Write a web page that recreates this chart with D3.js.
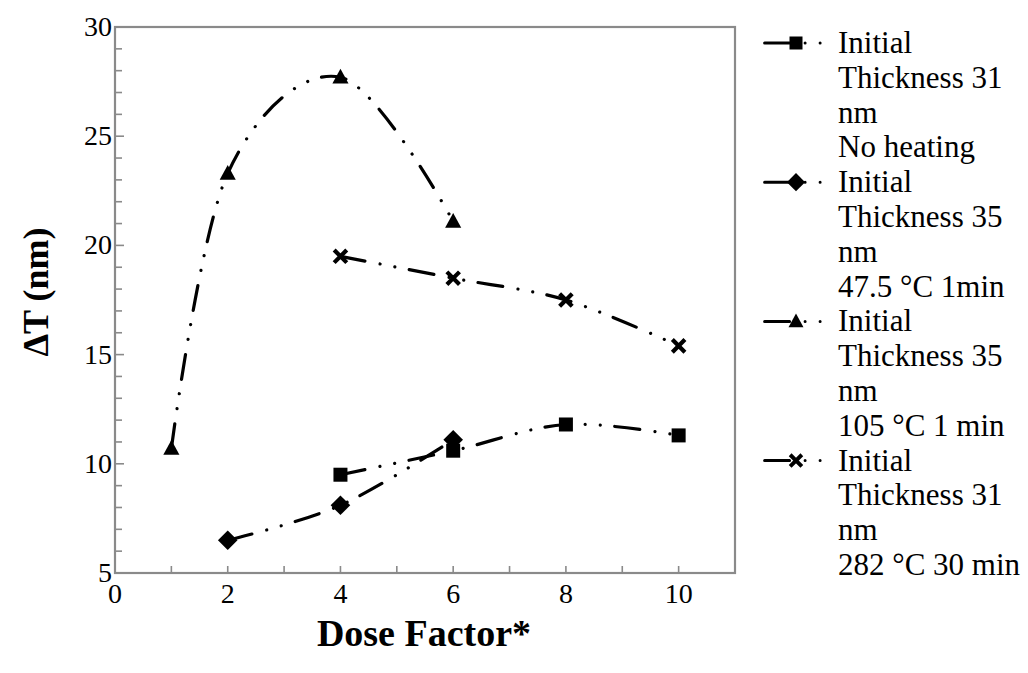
<!DOCTYPE html>
<html>
<head>
<meta charset="utf-8">
<script src="https://cdn.jsdelivr.net/npm/d3@7"></script>
<style>
  html, body { margin: 0; padding: 0; background: #fff; }
  svg { display: block; }
  svg text { font-family: "Times New Roman", "Liberation Serif", "DejaVu Serif", "Noto Serif", serif; }
</style>
</head>
<body>
<svg id="chart" width="1028" height="673"></svg>
<script>
// Dose factor vs. thickness loss for four film treatments
const seriesNames = [
  ["Initial", "Thickness 31", "nm", "No heating"],
  ["Initial", "Thickness 35", "nm", "47.5 °C 1min"],
  ["Initial", "Thickness 35", "nm", "105 °C 1 min"],
  ["Initial", "Thickness 31", "nm", "282 °C 30 min"]
];
const markerTypes = ["square", "diamond", "triangle", "cross"];

const doseNoHeat = [4, 6, 8, 10];
const dtNoHeat = [9.5, 10.6, 11.8, 11.3];

const dose475 = [2, 4, 6];
const dt475 = [6.5, 8.1, 11.1];

const dose105 = [1, 2, 4, 6];
const dt105 = [10.7, 23.3, 27.7, 21.1];

const dose282 = [4, 6, 8, 10];
const dt282 = [19.5, 18.5, 17.5, 15.4];

const xTicks = [0, 2, 4, 6, 8, 10];
const yTicks = [5, 10, 15, 20, 25, 30];

const allSeries = [
  { x: doseNoHeat, y: dtNoHeat },
  { x: dose475, y: dt475 },
  { x: dose105, y: dt105 },
  { x: dose282, y: dt282 }
];

const svg = d3.select("#chart");
const plot = { left: 115, right: 735, top: 27, bottom: 573 };
const x = d3.scaleLinear().domain([0, 11]).range([plot.left, plot.right]);
const y = d3.scaleLinear().domain([5, 30]).range([plot.bottom, plot.top]);

const axisGray = "#8a8a8a";
const dashPattern = "25,15.5,0.01,15,0.01,14.5";

// frame
svg.append("rect")
  .attr("x", plot.left).attr("y", plot.top)
  .attr("width", plot.right - plot.left).attr("height", plot.bottom - plot.top)
  .attr("fill", "none").attr("stroke", axisGray).attr("stroke-width", 2.2);

// inward ticks every unit
const gTicks = svg.append("g").attr("stroke", axisGray).attr("stroke-width", 1.6);
d3.range(1, 11).forEach(v => {
  gTicks.append("line")
    .attr("x1", x(v)).attr("x2", x(v))
    .attr("y1", plot.bottom).attr("y2", plot.bottom - 7);
});
d3.range(6, 30).forEach(v => {
  const len = v % 5 === 0 ? 9 : 7;
  gTicks.append("line")
    .attr("x1", plot.left).attr("x2", plot.left + len)
    .attr("y1", y(v)).attr("y2", y(v));
});

// tick labels
svg.append("g").selectAll("text").data(xTicks).join("text")
  .attr("x", d => x(d)).attr("y", 603)
  .attr("text-anchor", "middle").attr("font-size", 28)
  .text(d => d);
svg.append("g").selectAll("text").data(yTicks).join("text")
  .attr("x", 112).attr("y", d => y(d) + 9)
  .attr("text-anchor", "end").attr("font-size", 28)
  .text(d => d);

// axis titles
svg.append("text")
  .attr("x", 424).attr("y", 646)
  .attr("text-anchor", "middle").attr("font-size", 38).attr("font-weight", "bold")
  .text("Dose Factor*");
svg.append("text")
  .attr("transform", "translate(48,292) rotate(-90)")
  .attr("text-anchor", "middle").attr("font-size", 36).attr("font-weight", "bold")
  .text("ΔT (nm)");

// marker shapes
function drawMarker(g, type, cx, cy, s) {
  if (type === "square") {
    g.append("rect").attr("x", cx - s / 2).attr("y", cy - s / 2)
      .attr("width", s).attr("height", s).attr("fill", "#000");
  } else if (type === "diamond") {
    const r = s * 0.7;
    g.append("path")
      .attr("d", `M${cx},${cy - r}L${cx + r},${cy}L${cx},${cy + r}L${cx - r},${cy}Z`)
      .attr("fill", "#000");
  } else if (type === "triangle") {
    const w = s * 1.15, h = s;
    g.append("path")
      .attr("d", `M${cx},${cy - h * 0.6}L${cx + w / 2},${cy + h * 0.45}L${cx - w / 2},${cy + h * 0.45}Z`)
      .attr("fill", "#000");
  } else if (type === "cross") {
    const r = s * 0.45;
    g.append("path")
      .attr("d", `M${cx - r},${cy - r}L${cx + r},${cy + r}M${cx - r},${cy + r}L${cx + r},${cy - r}`)
      .attr("stroke", "#000").attr("stroke-width", s * 0.3).attr("fill", "none");
  }
}

// smoothed dash-dot-dot lines
const line = d3.line()
  .x(d => x(d[0])).y(d => y(d[1]))
  .curve(d3.curveCatmullRom.alpha(0));

const gSeries = svg.append("g");
allSeries.forEach((s, i) => {
  const pts = s.x.map((v, j) => [v, s.y[j]]);
  gSeries.append("path")
    .attr("d", line(pts))
    .attr("fill", "none").attr("stroke", "#000").attr("stroke-width", 3.2)
    .attr("stroke-linecap", "round").attr("stroke-dasharray", dashPattern);
});
allSeries.forEach((s, i) => {
  const g = gSeries.append("g");
  s.x.forEach((v, j) => drawMarker(g, markerTypes[i], x(v), y(s.y[j]), 14));
});

// legend
const legend = svg.append("g");
const lineStep = 34.8;
seriesNames.forEach((lines, i) => {
  const cy = 43 + i * 4 * lineStep;
  legend.append("line")
    .attr("x1", 764.6).attr("x2", 822).attr("y1", cy).attr("y2", cy)
    .attr("stroke", "#000").attr("stroke-width", 3)
    .attr("stroke-linecap", "round").attr("stroke-dasharray", dashPattern);
  drawMarker(legend, markerTypes[i], 796, cy, 13);
  lines.forEach((t, k) => {
    legend.append("text")
      .attr("x", 838).attr("y", cy + k * lineStep + 10)
      .attr("font-size", 31)
      .text(t);
  });
});
</script>
</body>
</html>
